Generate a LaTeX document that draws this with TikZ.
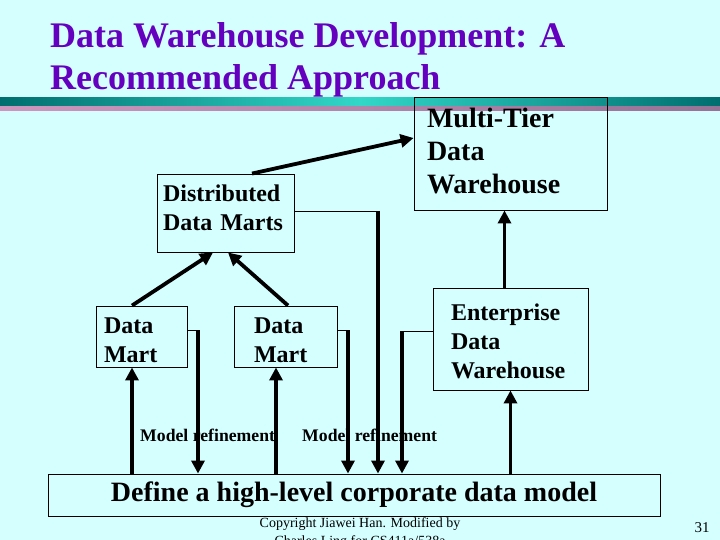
\documentclass[tikz,border=0pt]{standalone}
\usepackage{fontspec}
\setmainfont{Liberation Serif}
\usetikzlibrary{arrows.meta}
\definecolor{bg}{RGB}{213,255,255}
\definecolor{titlec}{RGB}{100,0,190}
\definecolor{tealdark}{RGB}{0,110,110}
\definecolor{teallight}{RGB}{50,215,200}
\definecolor{pinkl}{RGB}{205,150,190}
\definecolor{pinkd}{RGB}{150,115,150}
\begin{document}
\begin{tikzpicture}[x=1pt,y=-1pt,
  box/.style={draw=black,line width=0.9pt,inner ysep=0pt,align=left},
  thickarr/.style={line width=3.8pt,-{Triangle[length=13pt,width=13pt]}},
  thinline/.style={line width=0.9pt},
  titlefont/.style={font={\fontsize{36}{42}\selectfont\bfseries},text=titlec,inner sep=0pt},
  f28/.style={font={\fontsize{28}{33}\selectfont\bfseries}},
  f24/.style={font={\fontsize{24}{29}\selectfont\bfseries}},
  reffont/.style={font={\fontsize{17.7}{20}\selectfont\bfseries},inner sep=0pt},
  smallfont/.style={font={\fontsize{14}{17}\selectfont},inner sep=0pt}]
% background
\fill[bg] (0,0) rectangle (720,540);
\useasboundingbox (0,0) rectangle (720,540);
% title
\node[titlefont,anchor=base west] (title1) at (50,48) {Data Warehouse Development: A};
\node[titlefont,anchor=base west] (title2) at (50,90) {Recommended Approach};
% bars
\shade[left color=tealdark,right color=tealdark,middle color=teallight] (0,98) rectangle (720,106);
\shade[left color=pinkl,right color=pinkd] (0,107) rectangle (720,111);
% boxes
\node[box,f28,minimum width=193,minimum height=113,inner xsep=13,text width=167] (mt) at (510.5,153.5) {Multi-Tier\\Data\\Warehouse\rule[-6pt]{0pt}{0pt}};
\node[box,f24,minimum width=137,minimum height=78,inner xsep=6,text width=125] (dist) at (225.5,213) {Distributed\\Data Marts\rule[-10pt]{0pt}{0pt}};
\node[box,f24,minimum width=91,minimum height=61,inner xsep=8,text width=75] (dm1) at (141.5,336.5) {\rule{0pt}{24pt}Data\\Mart};
\node[box,f24,minimum width=103,minimum height=61,inner xsep=20,text width=63] (dm2) at (285.5,336.5) {\rule{0pt}{24pt}Data\\Mart};
\node[box,f24,minimum width=155,minimum height=102,inner xsep=18,text width=119] (ent) at (510.5,339) {\rule{0pt}{22pt}Enterprise\\Data\\Warehouse};
\node[box,f28,align=center,minimum width=612,minimum height=42] (base) at (354,495) {Define a high-level corporate data model};
% labels
\node[reffont,anchor=base west] (ref1) at (140,441) {Model refinement};
\node[reffont,anchor=base west] (ref2) at (302,441) {Model refinement};
% footer
\node[smallfont,anchor=base] (copy1) at (360,527) {Copyright Jiawei Han. Modified by};
\node[smallfont,anchor=base] (copy2) at (360,545) {Charles Ling for CS411a/538a};
\node[font={\fontsize{15}{18}\selectfont},inner sep=0pt] (pg) at (702,528) {31};
% connectors
\draw[thickarr] ([xshift=26.5]dist.north) -- ([yshift=15.5]mt.west);
\draw[thickarr] ([xshift=-9.5]dm1.north) -- ([xshift=-12.5]dist.south);
\draw[thickarr] ([xshift=2.5]dm2.north) -- ([xshift=2.5]dist.south);
\coordinate (c1) at (378,211);
\coordinate (c2) at (198,330);
\coordinate (c3) at (348,330);
\coordinate (c4) at (402,331);
\draw[thinline] ([yshift=2]dist.east) -- (c1);
\draw[thinline] ([yshift=6.5]dm1.east) -- (c2);
\draw[thinline] ([yshift=6.5]dm2.east) -- (c3);
\draw[thinline] ([yshift=8]ent.west) -- (c4);
\draw[thickarr] (c1) -- (c1 |- base.north);
\draw[thickarr] (c2) -- (c2 |- base.north);
\draw[thickarr] (c3) -- (c3 |- base.north);
\draw[thickarr] (c4) -- (c4 |- base.north);
\coordinate (u1) at ([xshift=-9.5]dm1.south);
\coordinate (u2) at ([xshift=-9.5]dm2.south);
\coordinate (u3) at (ent.south);
\coordinate (v1) at ([xshift=-6]ent.north);
\draw[thickarr] (u1 |- base.north) -- (u1);
\draw[thickarr] (u2 |- base.north) -- (u2);
\draw[thickarr] (u3 |- base.north) -- (u3);
\draw[thickarr] (v1) -- (v1 |- mt.south);
\end{tikzpicture}
\end{document}
